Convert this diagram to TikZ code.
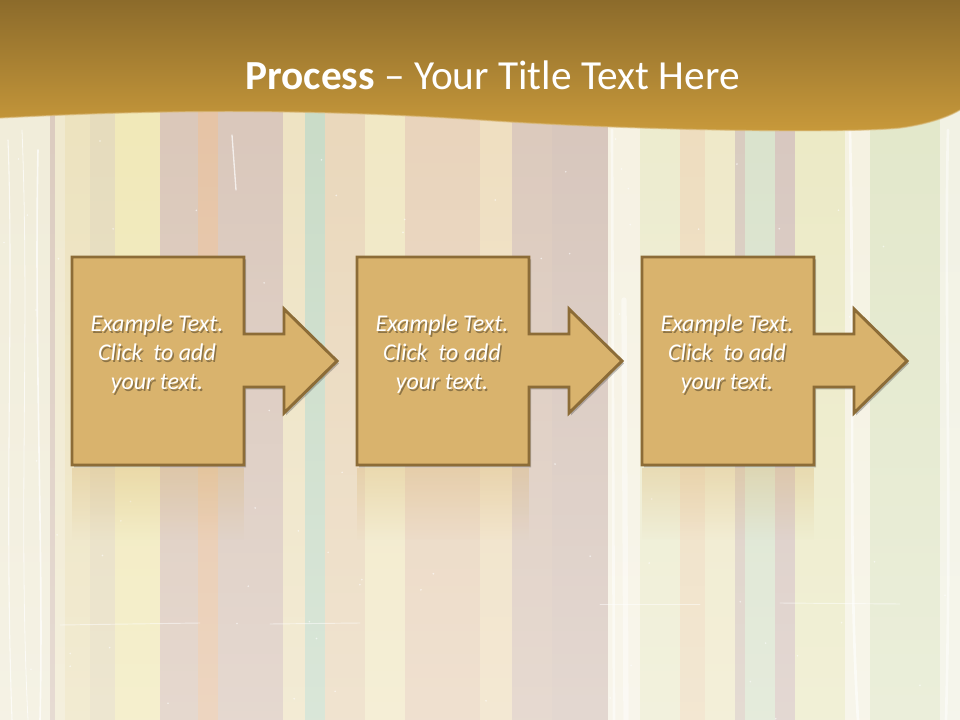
\documentclass[tikz,border=0pt]{standalone}
\usepackage{fontspec}
\setmainfont{Carlito}
\usetikzlibrary{shadows,fadings}
\definecolor{boxfill}{HTML}{D9B36D}
\definecolor{boxline}{HTML}{8C6C37}
\definecolor{bandtop}{HTML}{8C6B2B}
\definecolor{bandbot}{HTML}{C99A3B}
\tikzset{
  stripe/.style={fill=#1},
  stepshape/.style={fill=boxfill, draw=boxline, line width=2.2pt, line join=miter,
    drop shadow={opacity=0.35, shadow xshift=1.5pt, shadow yshift=-1.8pt, fill=black!70}},
  boxtext/.style={text=white, align=center, font=\fontsize{18}{21.8}\selectfont\itshape, inner sep=0pt},
  boxshadowtext/.style={text=black, opacity=0.35, align=center, font=\fontsize{18}{21.8}\selectfont\itshape, inner sep=0pt},
  reflect/.style={fill=boxfill, fill opacity=0.32, path fading=south},
  scratch/.style={white, line width=#1, opacity=0.7, line cap=round},
}
\begin{document}
\begin{tikzpicture}[x=0.75pt,y=-0.75pt]
\useasboundingbox (0,0) rectangle (960,720);
% background stripes
\foreach \a/\b/\c in {0/50/F1EDDA,50/55/DCCCC0,55/65/F0E9CF,65/90/EDE3BF,90/115/E6DCBD,115/160/F1E9B9,
  160/198/DBC8BA,198/218/E6C4A6,218/283/DAC8BC,283/305/EEE3C3,305/325/CADCC8,325/365/EAD8BC,
  365/405/F1E8C5,405/480/E9D4BC,480/512/EFDFC1,512/552/DCCABD,552/608/D8C7BD,608/640/F6F2E3,
  640/680/EDECCF,680/705/EEDDBF,705/735/EFE9C9,735/745/D9CCC0,745/775/DAE3CD,775/795/D8C8C0,
  795/845/ECEAC6,845/870/F5F2E2,870/940/E3E8CB,940/960/F2F2E4}{
  \definecolor{stc}{HTML}{\c}
  \fill[stc] (\a,0) rectangle (\b,720);
}
% washed-out overlay towards the bottom
\fill[white, fill opacity=0.3, path fading=north] (0,120) rectangle (960,720);
% scratches
\draw[scratch=0.8pt] (8,140) .. controls (14,300) and (4,500) .. (12,720);
\draw[scratch=0.6pt] (22,130) .. controls (30,330) and (18,520) .. (28,720);
\draw[scratch=1.2pt] (38,150) .. controls (34,350) and (44,560) .. (40,720);
\draw[scratch=2pt, opacity=0.5] (612,130) -- (614,720);
\draw[scratch=4pt, opacity=0.45] (624,300) -- (626,720);
\draw[scratch=2pt, opacity=0.6] (850,130) .. controls (855,400) and (848,560) .. (858,720);
\draw[scratch=2pt, opacity=0.5] (948,130) .. controls (944,300) and (952,500) .. (946,720);
\draw[scratch=1pt] (232,135) -- (236,190);
\draw[scratch=0.7pt, opacity=0.5] (60,625) -- (200,623);
\draw[scratch=0.7pt, opacity=0.5] (270,624) -- (360,623);
\draw[scratch=0.7pt, opacity=0.5] (600,604) -- (700,604);
\draw[scratch=0.7pt, opacity=0.5] (780,603) -- (900,604);
\pgfmathsetseed{7}
\foreach \k in {1,...,90}{
  \pgfmathsetmacro{\px}{rnd*960}
  \pgfmathsetmacro{\py}{130+rnd*590}
  \fill[white, opacity=0.6] (\px,\py) circle (0.9);
}
% title band
\shade[top color=bandtop, bottom color=bandbot]
  (0,0) -- (960,0) -- (960,110)
  .. controls (950,116) and (930,124) .. (900,128)
  .. controls (840,134) and (620,130) .. (480,120)
  .. controls (300,108) and (150,110) .. (0,118) -- cycle;
\draw[line width=1pt, color=bandbot!70!white, opacity=0.6]
  (960,110) .. controls (950,116) and (930,124) .. (900,128)
  .. controls (840,134) and (620,130) .. (480,120)
  .. controls (300,108) and (150,110) .. (0,118);
\node[text=white, inner sep=0pt] (title) at (492.5,75)
  {\fontsize{31}{37}\selectfont\textbf{Process} – Your Title Text Here};
% process steps
\foreach \i/\dx in {1/0,2/285,3/570}{
  \fill[reflect] (72+\dx,468) rectangle (244+\dx,540);
  \path[stepshape] (72+\dx,257) -- (244+\dx,257) -- (244+\dx,334) -- (284+\dx,334)
    -- (284+\dx,309) -- (337+\dx,361) -- (284+\dx,413) -- (284+\dx,387)
    -- (244+\dx,387) -- (244+\dx,465) -- (72+\dx,465) -- cycle;
  \node[boxshadowtext] (s\i) at (158.5+\dx,356) {Example Text.\\Click~ to add\\your text.};
  \node[boxtext] (t\i) at (157+\dx,354) {Example Text.\\Click~ to add\\your text.};
}
\end{tikzpicture}
\end{document}
